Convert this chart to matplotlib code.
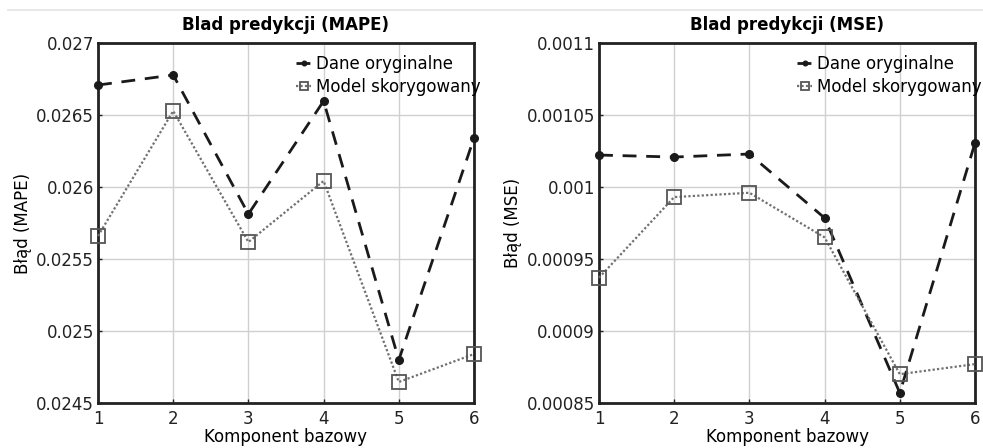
import matplotlib.pyplot as plt
from matplotlib.lines import Line2D

# Data
komponent = [1, 2, 3, 4, 5, 6]
mape_oryg = [0.026708, 0.026778, 0.025812, 0.026597, 0.024799, 0.026340]
mape_model = [0.025660, 0.026528, 0.025618, 0.026042, 0.024646, 0.024840]
mse_oryg = [0.0010222, 0.0010208, 0.0010229, 0.0009785, 0.0008570, 0.0010306]
mse_model = [0.0009370, 0.0009930, 0.0009960, 0.0009650, 0.0008700, 0.0008770]

mape_ticks = [0.0245, 0.025, 0.0255, 0.026, 0.0265, 0.027]
mape_labels = ['0.0245', '0.025', '0.0255', '0.026', '0.0265', '0.027']
mse_ticks = [0.00085, 0.0009, 0.00095, 0.001, 0.00105, 0.0011]
mse_labels = ['0.00085', '0.0009', '0.00095', '0.001', '0.00105', '0.0011']

plt.rcParams['font.family'] = ['DejaVu Sans']

fig = plt.figure(figsize=(9.83, 4.48), dpi=100)

# thin gray line at the very top
fig.add_artist(Line2D([8 / 983, 1.0], [1 - 10 / 448, 1 - 10 / 448],
                      color='#e4e4e4', lw=1.2))

panels = [
    (98, 'Blad predykcji (MAPE)', 'Błąd (MAPE)', mape_oryg, mape_model, mape_ticks, mape_labels),
    (599, 'Blad predykcji (MSE)', 'Błąd (MSE)', mse_oryg, mse_model, mse_ticks, mse_labels),
]

for left, title, ylab, oryg, model, ticks, labels in panels:
    ax = fig.add_axes([left / 983, 1 - 403 / 448, 376 / 983, 360 / 448])
    ax.plot(komponent, oryg, color='#1a1a1a', ls=(0, (5, 3.5)), lw=2.0,
            marker='o', ms=5.5, mfc='#1a1a1a', mec='#1a1a1a',
            label='Dane oryginalne', clip_on=False, zorder=3)
    ax.plot(komponent, model, color='#707070', ls=(0, (1, 1)), lw=1.6,
            marker='s', ms=10, mfc='none', mec='#555555', mew=1.3,
            label='Model skorygowany', clip_on=False, zorder=4)
    ax.set_xlim(1, 6)
    ax.set_ylim(ticks[0], ticks[-1])
    ax.set_xticks(komponent)
    ax.set_yticks(ticks)
    ax.set_yticklabels(labels)
    ax.grid(True, color='#d0d0d0', lw=1.0)
    ax.set_axisbelow(True)
    for sp in ax.spines.values():
        sp.set_linewidth(2.0)
        sp.set_color('#222222')
    ax.tick_params(direction='in', length=3, width=1, labelsize=12,
                   colors='#222222')
    ax.tick_params(axis='x', pad=5)
    ax.tick_params(axis='y', pad=3)
    ax.set_title(title, fontsize=12, fontweight='bold', pad=9)
    ax.set_xlabel('Komponent bazowy', fontsize=12, labelpad=0)
    ax.set_ylabel(ylab, fontsize=12, labelpad=3)
    ax.legend(loc='upper left', bbox_to_anchor=(0.5, 0.995), frameon=False,
              fontsize=12, handlelength=0.9, handletextpad=0.3,
              labelspacing=0.3, borderaxespad=0.2, markerscale=0.6)

fig.savefig('out.png', dpi=100)
